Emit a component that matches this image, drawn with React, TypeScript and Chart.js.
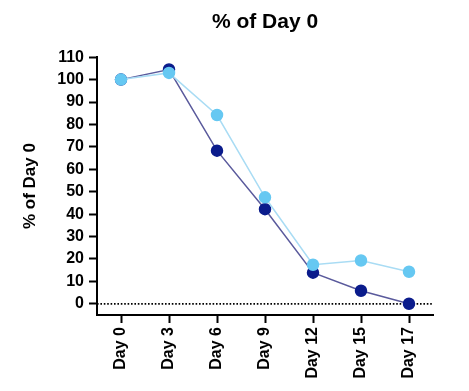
import React, { useEffect, useRef } from "react";
import { Chart, registerables } from "chart.js";

Chart.register(...registerables);

const categories = ["Day 0", "Day 3", "Day 6", "Day 9", "Day 12", "Day 15", "Day 17"];
const darkSeries = [100, 104.5, 68.3, 42.2, 13.9, 5.8, 0];
const lightSeries = [100, 103, 84.2, 47.5, 17.4, 19.3, 14.3];
const yTickValues = [0, 10, 20, 30, 40, 50, 60, 70, 80, 90, 100, 110];
const yMin = -5;
const yMax = 110;
const titleText = "% of Day 0";
const yTitleText = "% of Day 0";

const FONT = "'Liberation Sans', Arial, Helvetica, sans-serif";

const zeroLinePlugin = {
  id: "zeroLine",
  beforeDatasetsDraw(chart: any) {
    const { ctx, chartArea, scales } = chart;
    const y = scales.y.getPixelForValue(0);
    ctx.save();
    ctx.strokeStyle = "#000";
    ctx.lineWidth = 1.8;
    ctx.setLineDash([1.6, 1.8]);
    ctx.beginPath();
    ctx.moveTo(chartArea.left, y);
    ctx.lineTo(chartArea.right, y);
    ctx.stroke();
    ctx.restore();
  },
};

export default function App() {
  const ref = useRef<HTMLCanvasElement | null>(null);
  useEffect(() => {
    if (!ref.current) return;
    const chart = new Chart(ref.current, {
      type: "line",
      data: {
        labels: categories,
        datasets: [
          {
            label: "light",
            data: lightSeries,
            borderColor: "#a9dcf4",
            backgroundColor: "#66c8f2",
            pointBackgroundColor: "#66c8f2",
            pointBorderColor: "#66c8f2",
            borderWidth: 1.5,
            pointRadius: 5.5,
            tension: 0,
          },
          {
            label: "dark",
            data: darkSeries,
            borderColor: "#5a5a9c",
            backgroundColor: "#0b1c8c",
            pointBackgroundColor: "#0b1c8c",
            pointBorderColor: "#0b1c8c",
            borderWidth: 1.5,
            pointRadius: 5.5,
            tension: 0,
          },
        ],
      },
      options: {
        animation: false,
        responsive: false,
        layout: { padding: { left: 0, right: 36, top: 0, bottom: 0 } },
        plugins: {
          legend: { display: false },
          tooltip: { enabled: false },
          title: {
            display: true,
            text: titleText,
            fullSize: false,
            color: "#000",
            font: { family: FONT, size: 21, weight: "bold" },
            padding: { top: 10, bottom: 22 },
          },
        },
        scales: {
          x: {
            type: "category",
            offset: true,
            grid: {
              drawOnChartArea: false,
              drawTicks: true,
              tickLength: 8,
              tickWidth: 2,
              tickColor: "#000",
              offset: false,
            },
            border: { display: true, color: "#000", width: 2 },
            ticks: {
              color: "#000",
              font: { family: FONT, size: 16, weight: "bold" },
              minRotation: 90,
              maxRotation: 90,
              padding: 4,
              autoSkip: false,
            },
            afterFit(scale: any) {
              scale.height = 76;
            },
          },
          y: {
            type: "linear",
            min: yMin,
            max: yMax,
            afterBuildTicks(scale: any) {
              scale.ticks = yTickValues.map((v) => ({ value: v }));
            },
            grid: {
              drawOnChartArea: false,
              drawTicks: true,
              tickLength: 8,
              tickWidth: 2,
              tickColor: "#000",
            },
            border: { display: true, color: "#000", width: 2 },
            ticks: {
              color: "#000",
              font: { family: FONT, size: 16, weight: "bold" },
              padding: 5,
            },
            title: {
              display: true,
              text: yTitleText,
              color: "#000",
              font: { family: FONT, size: 17, weight: "bold" },
              padding: { top: 20, bottom: 0 },
            },
            afterFit(scale: any) {
              scale.width = 97;
            },
          },
        },
      },
      plugins: [zeroLinePlugin],
    });
    return () => chart.destroy();
  }, []);
  return (
    <div style={{ position: "absolute", left: 0, top: 0, width: 469, height: 391, background: "#fff" }}>
      <canvas ref={ref} width={469} height={391} />
    </div>
  );
}
